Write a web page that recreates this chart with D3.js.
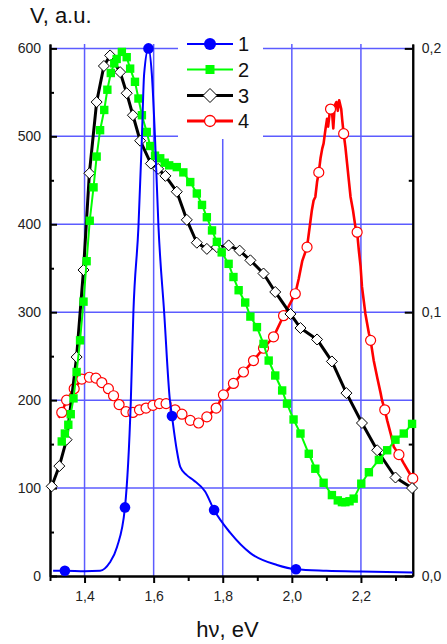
<!DOCTYPE html>
<html>
<head>
<meta charset="utf-8">
<script src="https://cdn.jsdelivr.net/npm/d3@7"></script>
<style>
  html, body { margin: 0; padding: 0; background: #fff; }
  svg { display: block; font-family: "Liberation Sans", Arial, sans-serif; }
</style>
</head>
<body>
<svg id="chart" width="447" height="644"></svg>
<script>
// Photon energy (eV) vs. signal V (a.u.), four spectra.

// Series 1 (blue): smooth curve and the points that carry markers
const s1x = [1.309, 1.343, 1.40, 1.445, 1.4725, 1.494, 1.517, 1.534, 1.5414, 1.556, 1.5657, 1.5725, 1.585,
             1.5947, 1.6043, 1.614, 1.6304, 1.647, 1.653, 1.667, 1.677, 1.695, 1.7154, 1.749, 1.775,
             1.822, 1.880, 1.957, 2.012, 2.10, 2.20, 2.35];
const s1v = [6, 6, 5.5, 6, 15, 33, 78, 200, 300, 397, 495, 571, 600,
             571, 495, 397, 300, 200, 182, 143, 124, 115, 109, 96, 75,
             49, 26, 12.5, 7.6, 6, 5, 4];
const s1markX = [1.343, 1.517, 1.585, 1.653, 1.775, 2.012];

// Series 2 (green squares)
const s2x = [1.334, 1.343, 1.353, 1.360, 1.368, 1.377, 1.387, 1.397, 1.406, 1.415, 1.426, 1.435, 1.445,
             1.457, 1.466, 1.476, 1.486, 1.493, 1.508, 1.522, 1.532, 1.546, 1.556, 1.566, 1.580, 1.590,
             1.604, 1.619, 1.632, 1.645, 1.667, 1.686, 1.706, 1.725, 1.740, 1.754, 1.769, 1.783, 1.797,
             1.817, 1.831, 1.846, 1.865, 1.880, 1.899, 1.918, 1.933, 1.952, 1.972, 1.986, 2.005, 2.025,
             2.049, 2.068, 2.092, 2.116, 2.133, 2.145, 2.155, 2.167, 2.179, 2.201, 2.223, 2.252, 2.276,
             2.300, 2.324, 2.348];
const s2v = [153, 162, 172, 184, 202, 232, 268, 312, 358, 404, 442, 477, 507,
             530, 553, 572, 583, 588, 596, 590, 577, 562, 543, 524, 505, 489,
             478, 475, 470, 467, 465, 459, 448, 435, 422, 408, 393, 380, 368,
             355, 340, 325, 311, 295, 283, 264, 245, 228, 211, 196, 178, 162,
             139, 122, 106, 92, 86, 84, 84, 85, 88, 105, 118, 132, 143,
             155, 162, 173];

// Series 3 (black, open diamonds)
const s3x = [1.305, 1.327, 1.348, 1.377, 1.397, 1.414, 1.435, 1.456, 1.474, 1.503, 1.522, 1.540,
             1.561, 1.592, 1.613, 1.634, 1.667, 1.696, 1.725, 1.754, 1.783, 1.817, 1.849, 1.880,
             1.918, 1.952, 1.996, 2.025, 2.073, 2.116, 2.158, 2.203, 2.247, 2.300, 2.348];
const s3v = [102, 125, 155, 249, 348, 458, 539, 580, 592, 573, 549, 524,
             495, 469, 463, 455, 437, 405, 379, 372, 374, 376, 370, 359,
             344, 323, 298, 282, 269, 244, 208, 174, 143, 112, 100];

// Series 4 (red, open circles on part of the points)
const s4x = [1.325, 1.334, 1.348, 1.370, 1.392, 1.414, 1.433, 1.450, 1.469, 1.484, 1.500, 1.520, 1.540,
             1.559, 1.578, 1.598, 1.617, 1.636, 1.662, 1.682, 1.706, 1.730, 1.754, 1.781, 1.802,
             1.831, 1.860, 1.889, 1.918, 1.947, 1.976, 1.990, 2.010, 2.020, 2.030, 2.044, 2.054,
             2.058, 2.063, 2.068, 2.073, 2.078, 2.083, 2.088, 2.092, 2.097, 2.102, 2.105, 2.110,
             2.112, 2.117, 2.120, 2.124, 2.129, 2.133, 2.137, 2.143, 2.146, 2.150, 2.155, 2.160,
             2.165, 2.170, 2.177, 2.184, 2.189, 2.194, 2.199, 2.203, 2.213, 2.223, 2.228, 2.237,
             2.247, 2.257, 2.261, 2.269, 2.276, 2.286, 2.295, 2.310, 2.324, 2.339, 2.350];
const s4v = [180, 186, 200, 213, 224, 226, 225, 220, 213, 205, 195, 187, 186,
             189, 191, 194, 196, 196, 189, 184, 177, 174, 181, 191, 206,
             219, 232, 245, 259, 272, 296, 306, 321, 338, 358, 374, 404,
             416, 427, 431, 448, 459, 475, 486, 492, 507, 520, 511, 528,
             531, 524, 509, 535, 539, 529, 541, 531, 518, 503, 488, 469,
             450, 431, 416, 397, 391, 370, 352, 329, 298, 276, 268, 245,
             226, 208, 200, 189, 177, 162, 147, 138, 128, 118, 111];
const s4markX = [1.334, 1.348, 1.370, 1.392, 1.414, 1.433, 1.450, 1.469, 1.484, 1.500, 1.520, 1.540,
                 1.559, 1.578, 1.598, 1.617, 1.636, 1.662, 1.682, 1.706, 1.730, 1.754, 1.781, 1.802,
                 1.831, 1.860, 1.889, 1.918, 1.947, 1.976, 2.010, 2.044, 2.078, 2.112, 2.150, 2.189,
                 2.228, 2.269, 2.310, 2.350];

// Axis ticks
const xMajor = [1.4, 1.6, 1.8, 2.0, 2.2];
const xMinor = [1.3, 1.5, 1.7, 1.9, 2.1, 2.3];
const yMajor = [0, 100, 200, 300, 400, 500, 600];
const yMinor = [50, 150, 250, 350, 450, 550];
const rMajor = [0, 0.1, 0.2];
const rMinor = [0.05, 0.15];
const legendLabels = ["1", "2", "3", "4"];

const svg = d3.select("#chart");
const plotL = 50, plotR = 412.75, plotT = 44, plotB = 576;

const x = d3.scaleLinear().domain([1.3, 2.35]).range([plotL, plotR]);
const y = d3.scaleLinear().domain([0, 605]).range([plotB, plotT]);
const yR = d3.scaleLinear().domain([0, 0.2 * 605 / 600]).range([plotB, plotT]);

const comma = d => d3.format(".1f")(d).replace(".", ",");
const gridColor = "#5c5cff";

// Grid
const grid = svg.append("g");
grid.selectAll("line.v").data(xMajor).join("line")
  .attr("x1", d => x(d)).attr("x2", d => x(d))
  .attr("y1", plotT).attr("y2", plotB)
  .attr("stroke", gridColor).attr("stroke-width", 1.5);
grid.selectAll("line.h").data(yMajor.filter(d => d > 0)).join("line")
  .attr("x1", plotL).attr("x2", plotR)
  .attr("y1", d => y(d)).attr("y2", d => y(d))
  .attr("stroke", gridColor).attr("stroke-width", 1.5);

// Axes
function styleAxis(g) {
  g.selectAll("path.domain").attr("stroke", "#000").attr("stroke-width", 2);
  g.selectAll(".tick line").attr("stroke", "#000").attr("stroke-width", 2);
  g.selectAll("text").attr("font-size", 14).attr("fill", "#222")
    .attr("font-family", "'Liberation Sans', Arial, sans-serif");
}
svg.append("g").attr("transform", `translate(${plotL},0)`)
  .call(d3.axisLeft(y).tickValues(yMajor).tickSize(-7).tickSizeOuter(0).tickPadding(9)
        .tickFormat(d3.format("d")))
  .call(styleAxis);
svg.append("g").attr("transform", `translate(${plotL},0)`)
  .call(d3.axisLeft(y).tickValues(yMinor).tickSize(-4).tickSizeOuter(0).tickFormat(""))
  .call(styleAxis);
svg.append("g").attr("transform", `translate(${plotR},0)`)
  .call(d3.axisRight(yR).tickValues(rMajor).tickSize(-8).tickSizeOuter(0).tickPadding(9)
        .tickFormat(comma))
  .call(styleAxis);
svg.append("g").attr("transform", `translate(${plotR},0)`)
  .call(d3.axisRight(yR).tickValues(rMinor).tickSize(-4).tickSizeOuter(0).tickFormat(""))
  .call(styleAxis);
svg.append("g").attr("transform", `translate(0,${plotB})`)
  .call(d3.axisBottom(x).tickValues(xMajor).tickSize(7).tickSizeOuter(0).tickPadding(8)
        .tickFormat(comma))
  .call(styleAxis);
svg.append("g").attr("transform", `translate(0,${plotB})`)
  .call(d3.axisBottom(x).tickValues(xMinor).tickSize(5).tickSizeOuter(0).tickFormat(""))
  .call(styleAxis);

// Axis titles
svg.append("text").attr("x", 30).attr("y", 23).attr("font-size", 22).attr("fill", "#111")
  .text("V, a.u.");
svg.append("text").attr("x", 227.5).attr("y", 637).attr("text-anchor", "middle")
  .attr("font-size", 22).attr("fill", "#111").text("hν, eV");

const zip = (xs, vs) => xs.map((d, i) => [d, vs[i]]);
const s1 = zip(s1x, s1v), s2 = zip(s2x, s2v), s3 = zip(s3x, s3v), s4 = zip(s4x, s4v);
const line = d3.line().x(d => x(d[0])).y(d => y(d[1]));
const smooth = d3.line().x(d => x(d[0])).y(d => y(d[1])).curve(d3.curveMonotoneX);

const diamond = h => `M0,${-h}L${h},0L0,${h}L${-h},0Z`;

// Series 4 (red)
svg.append("path").datum(s4).attr("d", line).attr("fill", "none")
  .attr("stroke", "#ff0000").attr("stroke-width", 2.6).attr("stroke-linejoin", "round");
svg.append("g").selectAll("circle").data(s4.filter(d => s4markX.includes(d[0]))).join("circle")
  .attr("cx", d => x(d[0])).attr("cy", d => y(d[1])).attr("r", 5)
  .attr("fill", "#fff").attr("stroke", "#ff0000").attr("stroke-width", 1.2);

// Series 3 (black)
svg.append("path").datum(s3).attr("d", line).attr("fill", "none")
  .attr("stroke", "#000").attr("stroke-width", 3).attr("stroke-linejoin", "round");
svg.append("g").selectAll("path").data(s3).join("path")
  .attr("transform", d => `translate(${x(d[0])},${y(d[1])})`).attr("d", diamond(5.5))
  .attr("fill", "#fff").attr("stroke", "#000").attr("stroke-width", 1);

// Series 2 (green)
svg.append("path").datum(s2).attr("d", line).attr("fill", "none")
  .attr("stroke", "#00ff00").attr("stroke-width", 2);
svg.append("g").selectAll("rect").data(s2).join("rect")
  .attr("x", d => x(d[0]) - 4.2).attr("y", d => y(d[1]) - 4.2)
  .attr("width", 8.4).attr("height", 8.4).attr("fill", "#00ff00");

// Series 1 (blue)
svg.append("path").datum(s1).attr("d", smooth).attr("fill", "none")
  .attr("stroke", "#0000ff").attr("stroke-width", 2);
svg.append("g").selectAll("circle").data(s1.filter(d => s1markX.includes(d[0]))).join("circle")
  .attr("cx", d => x(d[0])).attr("cy", d => y(d[1])).attr("r", 5.3).attr("fill", "#0000ff");

// Legend
const lg = svg.append("g");
lg.append("rect").attr("x", 178).attr("y", 30).attr("width", 85).attr("height", 109).attr("fill", "#fff");
const rows = [44, 69.5, 95.5, 121];
const legColors = ["#0000ff", "#00ff00", "#000", "#ff0000"];
const legWidths = [2, 2, 3, 3];
legendLabels.forEach((lab, i) => {
  const cy = rows[i];
  lg.append("line").attr("x1", 187).attr("x2", 233).attr("y1", cy).attr("y2", cy)
    .attr("stroke", legColors[i]).attr("stroke-width", legWidths[i]);
  if (i === 0) lg.append("circle").attr("cx", 210).attr("cy", cy).attr("r", 6).attr("fill", "#0000ff");
  if (i === 1) lg.append("rect").attr("x", 205.5).attr("y", cy - 4.5).attr("width", 9).attr("height", 9).attr("fill", "#00ff00");
  if (i === 2) lg.append("path").attr("transform", `translate(210,${cy})`).attr("d", diamond(7))
    .attr("fill", "#fff").attr("stroke", "#000").attr("stroke-width", 1);
  if (i === 3) lg.append("circle").attr("cx", 210).attr("cy", cy).attr("r", 5.5)
    .attr("fill", "#fff").attr("stroke", "#ff0000").attr("stroke-width", 1.3);
  lg.append("text").attr("x", 238).attr("y", cy + 7).attr("font-size", 20).attr("fill", "#111").text(lab);
});
</script>
</body>
</html>
